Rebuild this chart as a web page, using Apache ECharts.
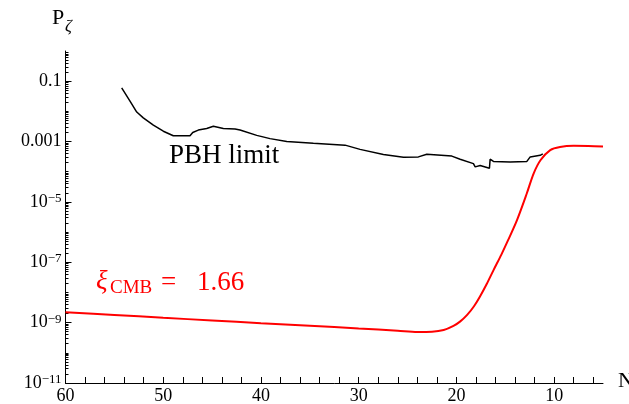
<!DOCTYPE html>
<html><head><meta charset="utf-8">
<script src="https://cdn.jsdelivr.net/npm/echarts@6/dist/echarts.min.js"></script>
<style>html,body{margin:0;padding:0;background:#fff;}#c{width:629px;height:404px;}</style>
</head><body><div id="c"></div>
<script>
// PBH limit (black)
const pbhN = [54.25, 53.4, 52.71, 52.04, 51.01, 49.99, 48.97, 47.26, 46.98, 46.41, 45.55, 44.87, 43.85, 42.65, 42.14, 40.43, 39.07, 37.36, 34.64, 31.39, 29.86, 27.47, 25.42, 23.89, 23.03, 20.47, 19.62, 18.26, 18.08, 17.57, 16.62, 16.55, 16.21, 14.50, 12.79, 12.45, 11.43, 11.16];
const pbhP = [6.0e-2, 2.2e-2, 9.5e-3, 6.1e-3, 3.5e-3, 2.2e-3, 1.55e-3, 1.55e-3, 2.0e-3, 2.4e-3, 2.7e-3, 3.2e-3, 2.7e-3, 2.6e-3, 2.4e-3, 1.6e-3, 1.25e-3, 1.0e-3, 8.7e-4, 7.6e-4, 5.5e-4, 3.7e-4, 3.0e-4, 3.1e-4, 3.8e-4, 3.3e-4, 2.6e-4, 1.85e-4, 1.45e-4, 1.6e-4, 1.3e-4, 2.6e-4, 2.2e-4, 2.1e-4, 2.2e-4, 3.1e-4, 3.5e-4, 3.9e-4];
// xi_CMB = 1.66 (red)
const cmbN = [60, 55, 50, 45, 40, 35, 30, 26, 24, 22.5, 21.3, 20.3, 19.6, 18.9, 18.2, 17.6, 16.9, 16.2, 15.4, 14.7, 13.8, 12.8, 12.1, 11.4, 10.4, 9.4, 8.0, 6.5, 5.0];
const cmbP = [2.2e-9, 1.8e-9, 1.45e-9, 1.18e-9, 9.6e-10, 7.9e-10, 6.4e-10, 5.4e-10, 4.9e-10, 5.0e-10, 5.7e-10, 7.8e-10, 1.1e-9, 1.8e-9, 3.5e-9, 7.2e-9, 1.9e-8, 5.5e-8, 1.8e-7, 5.5e-7, 2.5e-6, 1.9e-5, 8.7e-5, 2.4e-4, 5.2e-4, 6.6e-4, 7.2e-4, 7.1e-4, 6.8e-4];
// ticks
const xLabelValues = [60, 50, 40, 30, 20, 10];
const xTickValues = [60, 58, 56, 54, 52, 50, 48, 46, 44, 42, 40, 38, 36, 34, 32, 30, 28, 26, 24, 22, 20, 18, 16, 14, 12, 10, 8, 6];
const yTickValues = [1e-1, 1e-3, 1e-5, 1e-7, 1e-9, 1e-11];
const yTickBase = ['0.1', '0.001', '10', '10', '10', '10'];
const yTickSup = ['', '', '\u22125', '\u22127', '\u22129', '\u221211'];

const yMinor = [];
for (let e = -11; e <= -1; e++) {
  for (let k = 1; k <= 9; k++) {
    if (k === 1 && (e % 2 !== 0)) continue;
    yMinor.push(k * Math.pow(10, e));
  }
}

const SERIF = "'Liberation Serif','DejaVu Serif',serif";
const chart = echarts.init(document.getElementById('c'), null, {renderer: 'canvas'});
const gridBox = {left: 65.5, right: 26, top: 51, bottom: 21, outerBoundsMode: 'none'};
chart.setOption({
  backgroundColor: '#fff',
  animation: false,
  grid: [Object.assign({}, gridBox), Object.assign({}, gridBox)],
  xAxis: [{
    type: 'value', gridIndex: 0, inverse: true, min: 5, max: 60,
    axisLine: {show: true, lineStyle: {color: '#000', width: 1}},
    axisTick: {show: true, inside: true, length: 6, customValues: xTickValues, lineStyle: {color: '#000'}},
    axisLabel: {customValues: xLabelValues, color: '#000', fontSize: 18, fontFamily: SERIF, margin: 4},
    splitLine: {show: false}
  }, {
    type: 'value', gridIndex: 1, inverse: true, min: 5, max: 60, show: false
  }],
  yAxis: [{
    type: 'log', gridIndex: 0, min: 1e-11, max: 1,
    axisLine: {show: true, lineStyle: {color: '#000', width: 1}},
    axisTick: {show: true, inside: true, length: 6, customValues: yTickValues, lineStyle: {color: '#000'}},
    axisLabel: {
      customValues: yTickValues, color: '#000', fontSize: 18, fontFamily: SERIF, margin: 4,
      formatter: function (v) {
        let idx = 0, best = 1e9;
        for (let i = 0; i < yTickValues.length; i++) {
          const d = Math.abs(Math.log10(v) - Math.log10(yTickValues[i]));
          if (d < best) { best = d; idx = i; }
        }
        if (!yTickSup[idx]) return '{b|' + yTickBase[idx] + '}';
        return '{b|' + yTickBase[idx] + '}{s|' + yTickSup[idx] + '}';
      },
      rich: {
        b: {fontSize: 18, fontFamily: SERIF, color: '#000', lineHeight: 20},
        s: {fontSize: 13, fontFamily: SERIF, color: '#000', verticalAlign: 'top', lineHeight: 13}
      }
    },
    splitLine: {show: false}
  }, {
    type: 'log', gridIndex: 1, min: 1e-11, max: 1, position: 'left',
    axisLine: {show: false},
    axisTick: {show: true, inside: true, length: 3, customValues: yMinor, lineStyle: {color: '#000'}},
    axisLabel: {show: false},
    splitLine: {show: false}
  }],
  series: [{
    type: 'line', xAxisIndex: 0, yAxisIndex: 0, showSymbol: false, symbol: 'none',
    data: pbhN.map((n, i) => [n, pbhP[i]]),
    lineStyle: {color: '#000', width: 1.5}, smooth: false
  }, {
    type: 'line', xAxisIndex: 0, yAxisIndex: 0, showSymbol: false, symbol: 'none',
    data: cmbN.map((n, i) => [n, cmbP[i]]),
    lineStyle: {color: '#ff0000', width: 2}, smooth: 0.3
  }],
  graphic: [
    {type: 'text', x: 52, y: 18, style: {text: 'P', font: '22px ' + SERIF, fill: '#000', verticalAlign: 'middle'}},
    {type: 'text', x: 65, y: 27, style: {text: '\u03B6', font: 'italic 17px ' + SERIF, fill: '#000', verticalAlign: 'middle'}},
    {type: 'text', x: 618, y: 381, style: {text: 'N', font: '22px ' + SERIF, fill: '#000', verticalAlign: 'middle'}},
    {type: 'text', x: 169, y: 156, style: {text: 'PBH limit', font: '27px ' + SERIF, fill: '#000', verticalAlign: 'middle'}},
    {type: 'text', x: 96, y: 282, style: {text: '\u03BE', font: 'italic 27px ' + SERIF, fill: '#ff0000', verticalAlign: 'middle'}},
    {type: 'text', x: 110, y: 288, style: {text: 'CMB', font: '19px ' + SERIF, fill: '#ff0000', verticalAlign: 'middle'}},
    {type: 'text', x: 161, y: 283, style: {text: '=', font: '27px ' + SERIF, fill: '#ff0000', verticalAlign: 'middle'}},
    {type: 'text', x: 197, y: 283, style: {text: '1.66', font: '27px ' + SERIF, fill: '#ff0000', verticalAlign: 'middle'}}
  ]
});
</script>
</body></html>
